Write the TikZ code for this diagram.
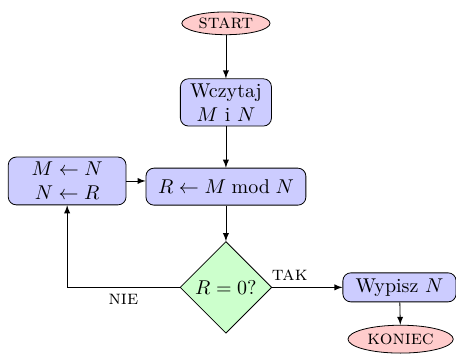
\documentclass[tikz,border=0pt]{standalone}
\RequirePackage{amsmath}
\usepackage{amsfonts}
\usepackage{amssymb}
\usepackage{tikz}
\usetikzlibrary{shapes.geometric,arrows,calc}

\begin{document}
\begin{tikzpicture}[>=latex,
  term/.style = {ellipse, draw, fill=red!20, inner sep=0pt},
  proc/.style = {rectangle, rounded corners, draw, fill=blue!20, align=center, inner sep=0pt},
  cond/.style = {diamond, draw, fill=green!20, inner sep=0pt, minimum size=1.61cm}]
  \useasboundingbox (0,0) rectangle (8.013,6.22);
  \node[term, minimum width=1.55cm, minimum height=0.40cm] (0) at (3.97,5.81) {\textsc{start}};
  \node[proc, minimum width=1.60cm, minimum height=0.83cm] (1) at (3.97,4.42) {Wczytaj\\ $M$ i $N$};
  \node[proc, minimum width=2.81cm, minimum height=0.65cm] (2) at (3.97,2.94) {$R \leftarrow M \bmod N$};
  \node[proc, minimum width=2.07cm, minimum height=0.84cm] (3) at (1.18,3.04) {$M \leftarrow N$\\ $N \leftarrow R$};
  \node[cond] (4) at (3.97,1.17) {$R = 0?$};
  \node[proc, minimum width=1.99cm, minimum height=0.51cm] (5) at (7.02,1.17) {Wypisz $N$};
  \node[term, minimum width=1.85cm, minimum height=0.49cm] (6) at (7.04,0.26) {\textsc{koniec}};
  \draw[->] (0)--(1);
  \draw[->] (1)--(2);
  \draw[->] (2)--(4);
  \draw[->] (4)--node[above, pos=0.25] {\textsc{tak}} (5);
  \draw[->] (5)--(6);
  \draw[->] (4.west) -| node[below, pos=0.25] {\textsc{nie}} (3.south);
  \draw[->] (3.east)--(3.east -| 2.west);
\end{tikzpicture}
\end{document}
